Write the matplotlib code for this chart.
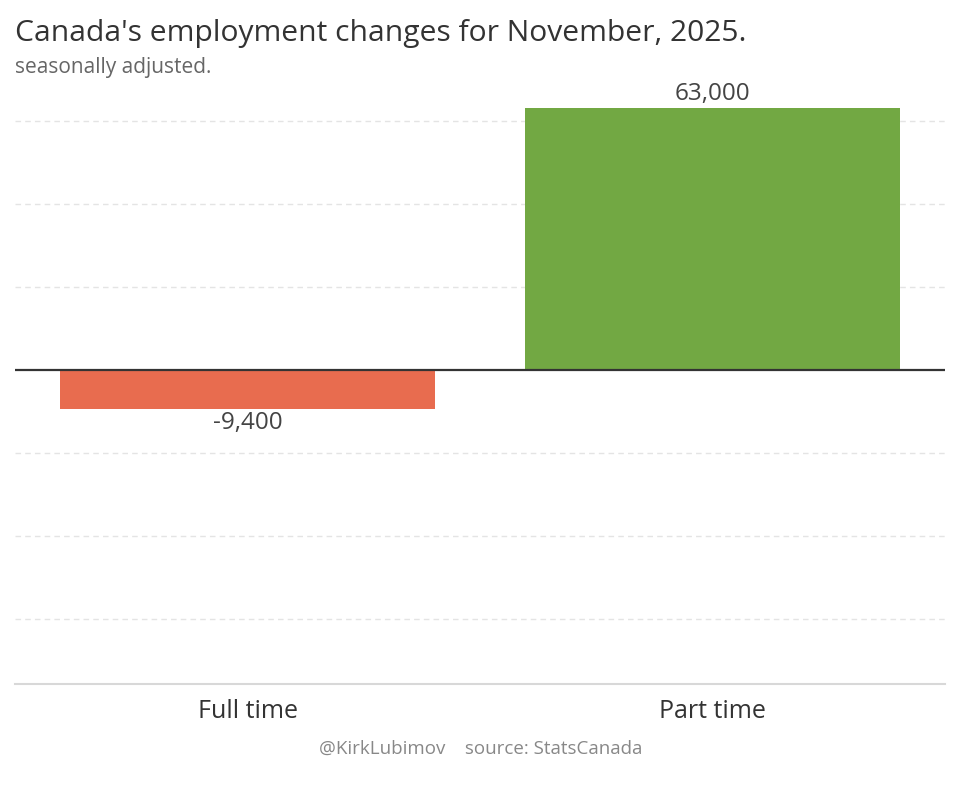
import matplotlib.pyplot as plt

categories = ['Full time', 'Part time']
changes = [-9400, 63000]
value_labels = ['-9,400', '63,000']
bar_colors = ['#E86C4F', '#72A843']
grid_values = [-60000, -40000, -20000, 20000, 40000, 60000]

plt.rcParams['font.family'] = ['Open Sans', 'DejaVu Sans']

fig = plt.figure(figsize=(9.61, 8.11), dpi=100)
ax = fig.add_axes([15 / 961, 1 - 684 / 811, 930 / 961, 584 / 811])

x = list(range(len(categories)))
ax.bar(x, changes, width=0.806, color=bar_colors, zorder=2)

for v in grid_values:
    ax.axhline(v, color='#E4E4E4', linestyle=(0, (4, 3)), linewidth=1, zorder=1)
ax.axhline(0, color='#333333', linewidth=1.6, zorder=3)

for xi, v, lab in zip(x, changes, value_labels):
    if v >= 0:
        ax.text(xi, v + 600, lab, ha='center', va='bottom', fontsize=17.5, color='#444444')
    else:
        ax.text(xi, v - 600, lab, ha='center', va='top', fontsize=17.5, color='#444444')

ax.set_xlim(-0.5, 1.5)
ax.set_ylim(-75700, 65000)
ax.set_xticks(x)
ax.set_xticklabels(categories, fontsize=18, color='#333333')
ax.tick_params(axis='x', length=0, pad=11)
ax.set_yticks([])
for s in ['top', 'left', 'right']:
    ax.spines[s].set_visible(False)
ax.spines['bottom'].set_color('#D8D8D8')
ax.spines['bottom'].set_linewidth(1.5)

fig.text(15 / 961, 1 - 33 / 811, "Canada's employment changes for November, 2025.",
         fontsize=21.6, color='#333333', va='center', ha='left')
fig.text(15 / 961, 1 - 67 / 811, 'seasonally adjusted.',
         fontsize=15, color='#666666', va='center', ha='left')
fig.text(481 / 961, 1 - 749 / 811, '@KirkLubimov    source: StatsCanada',
         fontsize=13.5, color='#888888', va='center', ha='center')

fig.savefig('out.png', dpi=100)
